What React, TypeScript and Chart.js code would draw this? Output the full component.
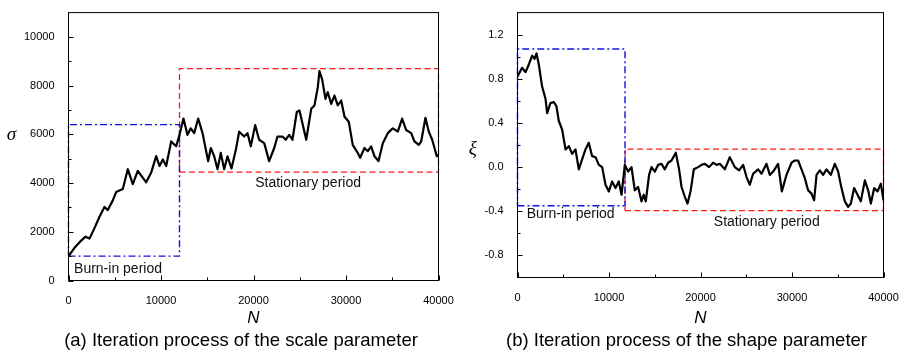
import React, { useEffect, useRef } from 'react';
import { Chart, registerables } from 'chart.js';

Chart.register(...registerables);

// ---------- data: panel (a) scale parameter sigma ----------
const iterA = [0, 650, 1370, 1840, 2270, 2810, 3350, 3890, 4250, 4790, 5150, 5870, 6410, 6950, 7490, 8400, 8940, 9480, 9840, 10200, 10560, 11100, 11640, 12000, 12430, 12860, 13220, 13590, 14020, 14490, 15100, 15380, 15750, 16110, 16460, 16830, 17190, 17620, 18090, 18450, 18990, 19350, 19710, 20180, 20610, 21160, 21690, 22240, 22590, 23130, 23490, 23860, 24210, 24680, 24970, 25700, 26240, 26590, 26950, 27130, 27420, 27780, 28030, 28400, 28750, 29110, 29480, 29840, 30300, 30730, 31270, 31530, 32000, 32360, 32720, 33080, 33510, 33980, 34520, 35060, 35600, 36070, 36500, 37050, 37400, 37870, 38130, 38590, 38950, 39320, 39810, 40000];
const sigmaA = [1000, 1340, 1640, 1800, 1720, 2150, 2620, 3020, 2890, 3290, 3630, 3760, 4570, 3960, 4500, 4030, 4430, 5110, 4700, 4970, 4700, 5710, 5510, 5980, 6650, 5980, 6250, 6050, 6650, 6050, 4900, 5440, 5100, 4570, 5240, 4570, 5100, 4600, 5370, 6110, 5910, 6050, 5510, 6380, 5780, 5640, 4900, 5440, 5910, 5910, 5780, 5980, 5780, 6920, 6980, 5780, 7050, 7190, 7930, 8600, 8260, 7460, 7730, 7250, 7590, 7190, 7390, 6720, 6520, 5570, 5240, 5040, 5440, 5310, 5510, 5100, 4900, 5640, 6050, 6250, 6110, 6650, 6180, 6050, 5710, 5570, 5710, 6680, 6110, 5780, 5100, 5150];

// ---------- data: panel (b) shape parameter xi ----------
const iterB = [0, 500, 870, 1240, 1600, 1860, 2080, 2330, 2690, 3060, 3240, 3600, 3970, 4260, 4510, 4880, 5250, 5610, 5970, 6340, 6700, 7060, 7430, 7790, 8150, 8530, 8890, 9250, 9620, 9980, 10340, 10710, 11070, 11370, 11730, 12090, 12460, 12820, 13180, 13550, 13800, 14020, 14380, 14650, 15010, 15370, 15740, 16100, 16460, 16830, 17300, 17660, 17930, 18290, 18580, 18910, 19270, 19740, 20110, 20470, 20940, 21380, 21750, 22110, 22660, 23200, 23750, 24220, 24660, 25030, 25390, 25750, 26300, 26670, 27210, 27580, 27940, 28480, 28890, 29400, 29950, 30310, 30670, 31040, 31400, 31760, 32130, 32420, 32680, 33040, 33400, 33770, 34240, 34680, 35040, 35410, 35770, 36140, 36430, 36790, 37160, 37520, 37960, 38320, 38620, 38980, 39350, 39710, 40000];
const xiB = [0.82, 0.90, 0.86, 0.93, 1.01, 0.98, 1.03, 0.93, 0.73, 0.62, 0.49, 0.58, 0.59, 0.55, 0.42, 0.34, 0.16, 0.19, 0.12, 0.16, -0.02, 0.07, 0.16, 0.22, 0.10, 0.09, 0.02, 0.00, -0.16, -0.22, -0.13, -0.19, -0.13, -0.25, 0.02, -0.04, 0.00, -0.21, -0.18, -0.31, -0.25, -0.31, -0.07, 0.00, -0.04, 0.02, 0.03, -0.02, 0.04, 0.06, 0.13, -0.02, -0.18, -0.27, -0.33, -0.22, -0.02, 0.00, 0.02, 0.03, 0.00, 0.04, 0.02, 0.03, -0.02, 0.09, 0.00, -0.03, 0.02, -0.09, -0.16, -0.06, -0.02, -0.06, 0.03, -0.07, -0.04, 0.03, -0.22, -0.07, 0.04, 0.06, 0.06, -0.02, -0.10, -0.21, -0.24, -0.30, -0.07, -0.03, -0.07, -0.02, -0.07, 0.03, -0.04, -0.19, -0.31, -0.36, -0.33, -0.19, -0.25, -0.31, -0.12, -0.21, -0.33, -0.19, -0.22, -0.15, -0.30];

// ---------- ticks ----------
const xTicks = [0, 10000, 20000, 30000, 40000];
const xMinorTicks = [5000, 15000, 25000, 35000];
const yTicksA = [0, 2000, 4000, 6000, 8000, 10000];
const yMinorA = [1000, 3000, 5000, 7000, 9000];
const yTicksB = [-0.8, -0.4, 0, 0.4, 0.8, 1.2];
const yMinorB = [-0.6, -0.2, 0.2, 0.6, 1.0];

// ---------- period boxes: [start N, end N, lower, upper] ----------
const burnInBoxA = [0, 12000, 1000, 6400];
const stationaryBoxA = [12000, 40000, 4450, 8700];
const burnInBoxB = [0, 11750, -0.35, 1.07];
const stationaryBoxB = [11750, 40000, -0.395, 0.163];

const SANS = '"Liberation Sans", Arial, sans-serif';
const SERIF = '"Liberation Serif", "Times New Roman", serif';

const BLUE = '#1010e0';
const RED = '#ff1a1a';

const boxPoints = (b: number[]) => [
  { x: b[0], y: b[2] },
  { x: b[1], y: b[2] },
  { x: b[1], y: b[3] },
  { x: b[0], y: b[3] },
  { x: b[0], y: b[2] },
];

const decorPlugin = {
  id: 'decor',
  afterDraw(chart: any, _args: any, opts: any) {
    const { ctx, chartArea: ca, scales } = chart;
    const xs = scales.x;
    const ys = scales.y;
    ctx.save();
    // frame
    ctx.strokeStyle = '#000';
    ctx.lineWidth = 1;
    ctx.strokeRect(ca.left, ca.top, ca.right - ca.left, ca.bottom - ca.top);
    // inward ticks
    ctx.beginPath();
    const xt = (v: number, len: number) => {
      const p = Math.round(xs.getPixelForValue(v)) + 0.5;
      ctx.moveTo(p, ca.bottom);
      ctx.lineTo(p, ca.bottom - len);
    };
    const yt = (v: number, len: number) => {
      const p = Math.round(ys.getPixelForValue(v)) + 0.5;
      ctx.moveTo(ca.left, p);
      ctx.lineTo(ca.left + len, p);
    };
    opts.xMajor.forEach((v: number) => xt(v, 5));
    opts.xMinor.forEach((v: number) => xt(v, 3));
    opts.yMajor.forEach((v: number) => yt(v, 5));
    opts.yMinor.forEach((v: number) => yt(v, 3));
    ctx.stroke();
    // notes
    ctx.fillStyle = '#111';
    ctx.font = `14px ${SANS}`;
    ctx.textBaseline = 'middle';
    opts.notes.forEach((n: any) => {
      ctx.textAlign = n.align;
      ctx.fillText(n.text, xs.getPixelForValue(n.x), ys.getPixelForValue(n.y));
    });
    // upright y title
    ctx.fillStyle = '#000';
    ctx.font = `italic 19px ${SERIF}`;
    ctx.textAlign = 'center';
    ctx.fillText(opts.yTitle.text, ca.left + opts.yTitle.dx, (ca.top + ca.bottom) / 2 + opts.yTitle.dy);
    // caption
    ctx.font = `18.5px ${SANS}`;
    ctx.fillText(opts.caption.text, (ca.left + ca.right) / 2 + opts.caption.dx, opts.caption.y);
    ctx.restore();
  },
};

type Spec = {
  left: number;
  width: number;
  iter: number[];
  values: number[];
  yMin: number;
  yMax: number;
  yTicks: number[];
  yMinor: number[];
  fmt: (v: number) => string;
  burn: number[];
  stat: number[];
  notes: { text: string; x: number; y: number; align: string }[];
  yTitle: { text: string; dx: number; dy: number };
  caption: { text: string; dx: number; y: number };
  yWidth: number;
  xHeight: number;
  padding: { left: number; right: number; top: number; bottom: number };
};

const specA: Spec = {
  left: 0,
  width: 470,
  iter: iterA,
  values: sigmaA,
  yMin: 0,
  yMax: 11000,
  yTicks: yTicksA,
  yMinor: yMinorA,
  fmt: (v) => String(v),
  burn: burnInBoxA,
  stat: stationaryBoxA,
  notes: [
    { text: 'Burn-in period', x: 600, y: 480, align: 'left' },
    { text: 'Stationary period', x: 25900, y: 4000, align: 'center' },
  ],
  yTitle: { text: 'σ', dx: -57, dy: -12 },
  caption: { text: '(a) Iteration process of the scale parameter', dx: -12.5, y: 341 },
  yWidth: 68.5,
  xHeight: 47.7,
  padding: { left: 0, right: 31.5, top: 7.5, bottom: 26.8 },
};

const specB: Spec = {
  left: 440,
  width: 465,
  iter: iterB,
  values: xiB,
  yMin: -1.0,
  yMax: 1.4,
  yTicks: yTicksB,
  yMinor: yMinorB,
  fmt: (v) => Number(v).toFixed(1),
  burn: burnInBoxB,
  stat: stationaryBoxB,
  notes: [
    { text: 'Burn-in period', x: 1000, y: -0.422, align: 'left' },
    { text: 'Stationary period', x: 27240, y: -0.498, align: 'center' },
  ],
  yTitle: { text: 'ξ', dx: -44.7, dy: 3.5 },
  caption: { text: '(b) Iteration process of the shape parameter', dx: -14, y: 341 },
  yWidth: 77.5,
  xHeight: 50.7,
  padding: { left: 0, right: 21.5, top: 7.5, bottom: 26.8 },
};

function Panel({ spec }: { spec: Spec }) {
  const ref = useRef<HTMLCanvasElement>(null);
  useEffect(() => {
    const canvas = ref.current!;
    const chart = new Chart(canvas, {
      type: 'line',
      data: {
        datasets: [
          {
            data: spec.iter.map((n, i) => ({ x: n, y: spec.values[i] })),
            borderColor: '#000',
            borderWidth: 2.2,
            pointRadius: 0,
            tension: 0,
            borderJoinStyle: 'round',
          },
          {
            data: boxPoints(spec.burn),
            borderColor: BLUE,
            borderWidth: 1.4,
            borderDash: [7, 3, 2, 3],
            pointRadius: 0,
            tension: 0,
            clip: false,
          },
          {
            data: boxPoints(spec.stat),
            borderColor: RED,
            borderWidth: 1.3,
            borderDash: [6, 3.5],
            pointRadius: 0,
            tension: 0,
            clip: false,
          },
        ] as any,
      },
      options: {
        animation: false,
        responsive: false,
        maintainAspectRatio: false,
        layout: { padding: spec.padding },
        plugins: {
          legend: { display: false },
          tooltip: { enabled: false },
          decor: {
            xMajor: xTicks,
            xMinor: xMinorTicks,
            yMajor: spec.yTicks,
            yMinor: spec.yMinor,
            notes: spec.notes,
            yTitle: spec.yTitle,
            caption: spec.caption,
          },
        } as any,
        scales: {
          x: {
            type: 'linear',
            min: 0,
            max: 40000,
            grid: { display: false },
            border: { display: false },
            afterBuildTicks: (s: any) => {
              s.ticks = xTicks.map((v) => ({ value: v }));
            },
            afterFit: (s: any) => {
              s.height = spec.xHeight;
            },
            ticks: {
              color: '#000',
              font: { family: SANS, size: 11 },
              padding: 6,
              maxRotation: 0,
              callback: (v: any) => String(v),
            },
            title: {
              display: true,
              text: 'N',
              color: '#000',
              font: { family: SANS, size: 17, style: 'italic' },
              padding: 0,
            },
          },
          y: {
            type: 'linear',
            min: spec.yMin,
            max: spec.yMax,
            grid: { display: false },
            border: { display: false },
            afterBuildTicks: (s: any) => {
              s.ticks = spec.yTicks.map((v) => ({ value: v }));
            },
            afterFit: (s: any) => {
              s.width = spec.yWidth;
            },
            ticks: {
              color: '#000',
              font: { family: SANS, size: 11 },
              padding: 6,
              callback: (v: any) => spec.fmt(Number(v)),
            },
          },
        },
      },
      plugins: [decorPlugin],
    });
    return () => chart.destroy();
  }, [spec]);
  return (
    <canvas
      ref={ref}
      width={spec.width}
      height={355}
      style={{ position: 'absolute', left: spec.left, top: 0, width: spec.width, height: 355 }}
    />
  );
}

export default function App() {
  return (
    <div
      style={{
        position: 'fixed',
        left: 0,
        top: 0,
        width: 905,
        height: 355,
        background: '#fff',
        overflow: 'hidden',
      }}
    >
      <Panel spec={specA} />
      <Panel spec={specB} />
    </div>
  );
}
